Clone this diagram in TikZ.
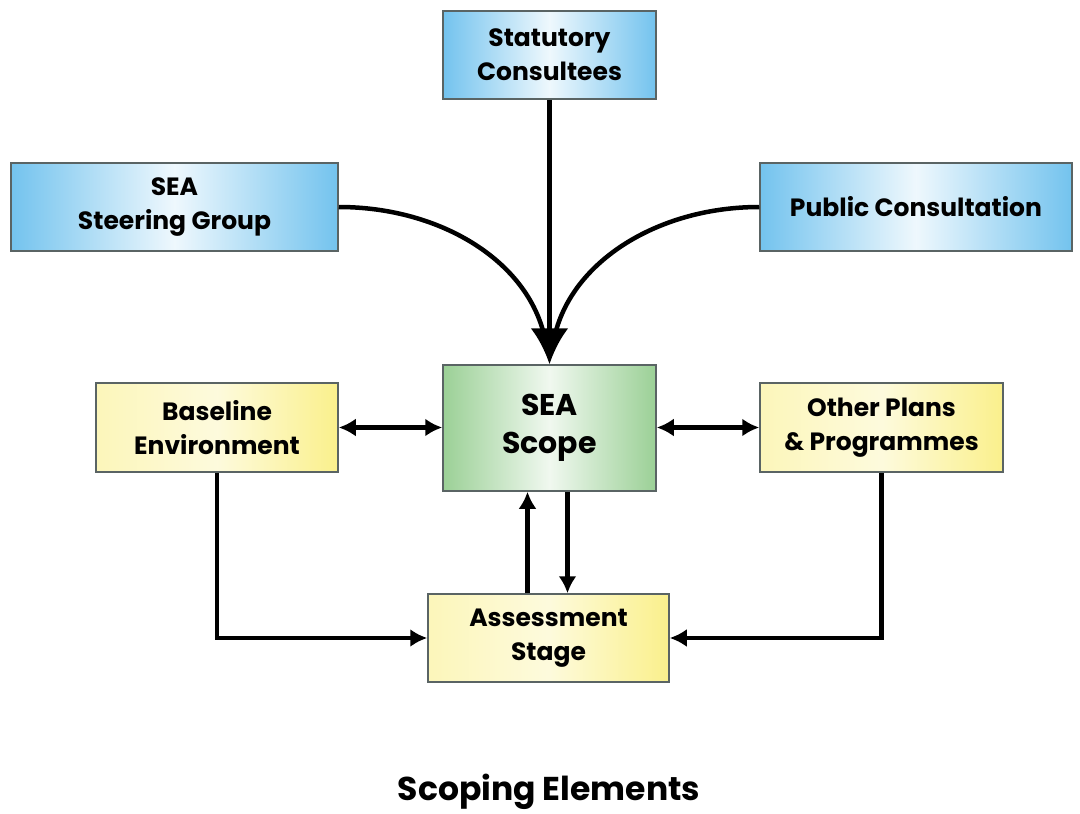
\documentclass[tikz,border=0pt]{standalone}
\usepackage{fontspec}
\setmainfont{Poppins}
\usepackage{tikz}
\usetikzlibrary{positioning,arrows.meta}
\definecolor{blueedge}{RGB}{115,195,238}
\definecolor{greenedge}{RGB}{155,208,150}
\definecolor{yellowedge}{RGB}{250,240,140}
\definecolor{boxline}{RGB}{90,100,100}
\tikzset{>={Latex[width=18pt,length=17pt]}}
\tikzset{
	box/.style={draw=boxline, line width=1.5pt, align=center, inner sep=0pt,
		font=\fontsize{25}{34}\selectfont\bfseries},
	bluebox/.style={box, left color=blueedge, right color=blueedge, middle color=blueedge!12},
	greenbox/.style={box, left color=greenedge, right color=greenedge, middle color=greenedge!15},
	yellowbox/.style={box, left color=yellowedge!60, right color=yellowedge, middle color=yellowedge!30},
	link/.style={line width=4.5pt},
}

\begin{document}
\begin{tikzpicture}[x=1pt,y=-1pt]
		\useasboundingbox (0,0) rectangle (1080,814);
		
		\node[bluebox, minimum width=213pt, minimum height=88pt] (stat) at (549.5,55) {Statutory\\Consultees};
		\node[bluebox, minimum width=327pt, minimum height=88pt] (steer) at (174.5,207) {SEA\\Steering Group};
		\node[bluebox, minimum width=312pt, minimum height=88pt] (public) at (916,207) {Public Consultation};
		\node[greenbox, minimum width=213pt, minimum height=126pt, font=\fontsize{30}{38}\selectfont\bfseries] (scope) at (549.5,428) {SEA\\Scope};
		\node[yellowbox, minimum width=242pt, minimum height=89pt] (base) at (217,427.5) {Baseline\\Environment};
		\node[yellowbox, minimum width=243pt, minimum height=89pt] (other) at (881.5,427.5) {Other Plans\\\& Programmes};
		\node[yellowbox, minimum width=241pt, minimum height=88pt] (assess) at (548.5,638) {Assessment\\Stage};
		\node[font=\fontsize{33}{40}\selectfont\bfseries] (title) at (549,792) {Scoping Elements};
		
		% consultation inputs
		\draw[link, shorten >=22pt] (steer.east) to[out=0,in=100] (scope.north);
		\draw[link, shorten >=22pt] (public.west) to[out=180,in=80] (scope.north);
		\draw[link, -{Latex[width=38pt,length=36pt]}] (stat.south) -- (scope.north);
		
		% scope links
		\draw[link, <->] (base.east) -- (scope.west |- base.east);
		\draw[link, <->] (scope.east |- other.west) -- (other.west);
		\draw[link, ->] ([xshift=-22pt]scope.south |- assess.north) -- ([xshift=-22pt]scope.south);
		\draw[link, ->] ([xshift=18pt]scope.south) -- ([xshift=18pt]scope.south |- assess.north);
		\draw[link, ->] (base.south) |- (assess.west);
		\draw[link, ->] (other.south) |- (assess.east);
	\end{tikzpicture}
\end{document}
